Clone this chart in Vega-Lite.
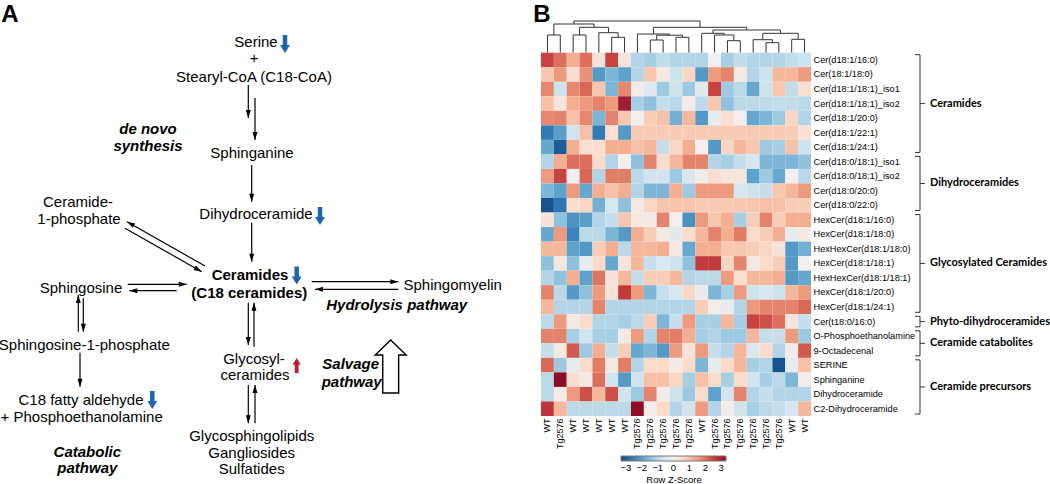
{
"$schema":"https://vega.github.io/schema/vega-lite/v6.json",
"width":1050,"height":484,"autosize":{"type":"none"},"padding":0,
"config":{"view":{"stroke":null},"font":"Liberation Sans","axis":{"domain":false,"ticks":false,"grid":false}},
"datasets":{
"txt":[{"t":"Serine","x":256,"y":42},{"t":"+","x":254,"y":58},{"t":"Stearyl-CoA (C18-CoA)","x":254,"y":77},{"t":"Sphinganine","x":252,"y":153},{"t":"Dihydroceramide","x":256,"y":213.5},{"t":"Ceramide-","x":78,"y":202},{"t":"1-phosphate","x":79,"y":218.5},{"t":"Sphingosine","x":81,"y":287.5},{"t":"Sphingomyelin","x":452.7,"y":285},{"t":"Sphingosine-1-phosphate","x":84.3,"y":344.5},{"t":"C18 fatty aldehyde","x":81,"y":400},{"t":"+ Phosphoethanolamine","x":81.7,"y":416.7},{"t":"Glycosyl-","x":254,"y":358.5},{"t":"ceramides","x":255,"y":375},{"t":"Glycosphingolipids","x":251.7,"y":436},{"t":"Gangliosides","x":251.7,"y":452.7},{"t":"Sulfatides","x":251.7,"y":469.3}],
"txtb":[{"t":"Ceramides","x":250,"y":275},{"t":"(C18 ceramides)","x":249.3,"y":292.7}],
"txtbi":[{"t":"de novo","x":148,"y":129},{"t":"synthesis","x":148,"y":146},{"t":"Hydrolysis pathway","x":396.7,"y":305},{"t":"Catabolic","x":87.3,"y":451.7},{"t":"pathway","x":87.3,"y":468.3},{"t":"Salvage","x":350.7,"y":364.3},{"t":"pathway","x":351.7,"y":381.7}],
"letters":[{"t":"A","x":10,"y":21.8},{"t":"B","x":542,"y":21.8}],
"arrows":[{"x":248.3,"y":85,"x2":248.3,"y2":118,"a":180},{"x":255,"y":98,"x2":255,"y2":140,"a":180},{"x":251.7,"y":165,"x2":251.7,"y2":201.7,"a":180},{"x":251.7,"y":222.7,"x2":251.7,"y2":261.7,"a":180},{"x":205,"y":266,"x2":127,"y2":221.7,"a":299.6},{"x":125,"y":228.3,"x2":201.7,"y2":271.7,"a":119.5},{"x":127.7,"y":284.3,"x2":186.7,"y2":284.3,"a":90},{"x":176.7,"y":290.7,"x2":129.3,"y2":290.7,"a":270},{"x":311.7,"y":281.7,"x2":398.3,"y2":281.7,"a":90},{"x":398.3,"y":289.3,"x2":315,"y2":289.3,"a":270},{"x":78.3,"y":331.7,"x2":78.3,"y2":295,"a":0},{"x":83.3,"y":298.3,"x2":83.3,"y2":331.7,"a":180},{"x":80,"y":352.7,"x2":80,"y2":386.7,"a":180},{"x":248.3,"y":302.7,"x2":248.3,"y2":345,"a":180},{"x":254,"y":346.7,"x2":254,"y2":302.7,"a":0},{"x":248.3,"y":385,"x2":248.3,"y2":423.3,"a":180},{"x":255,"y":423.3,"x2":255,"y2":385,"a":0}],
"down":[{"x":285,"y":44},{"x":320,"y":216},{"x":296.7,"y":275.5},{"x":152.3,"y":400}],
"up":[{"x":296.7,"y":365.5}],
"big":[{"x":390.7,"y":366.5}],
"dendro":[{"xl":1,"xr":2,"hl":0,"hr":0,"h":17.7},{"xl":3,"xr":4,"hl":0,"hr":0,"h":17.7},{"xl":6,"xr":7,"hl":0,"hr":0,"h":15.4},{"xl":5,"xr":6.5,"hl":0,"hr":15.4,"h":20},{"xl":3.5,"xr":5.75,"hl":17.7,"hr":20,"h":25.4},{"xl":1.5,"xr":4.625,"hl":17.7,"hr":25.4,"h":28.7},{"xl":9,"xr":10,"hl":0,"hr":0,"h":12.7},{"xl":11,"xr":12,"hl":0,"hr":0,"h":15.4},{"xl":9.5,"xr":11.5,"hl":12.7,"hr":15.4,"h":17.5},{"xl":8,"xr":10.5,"hl":0,"hr":17.5,"h":18.7},{"xl":15,"xr":16,"hl":0,"hr":0,"h":12},{"xl":14,"xr":15.5,"hl":0,"hr":12,"h":17.7},{"xl":13,"xr":14.75,"hl":0,"hr":17.7,"h":19.4},{"xl":18,"xr":19,"hl":0,"hr":0,"h":10},{"xl":17,"xr":18.5,"hl":0,"hr":10,"h":13},{"xl":20,"xr":21,"hl":0,"hr":0,"h":13.4},{"xl":17.75,"xr":20.5,"hl":13,"hr":13.4,"h":19.4},{"xl":13.875,"xr":19.125,"hl":19.4,"hr":19.4,"h":22.7},{"xl":9.25,"xr":16.5,"hl":18.7,"hr":22.7,"h":25.4},{"xl":3.0625,"xr":12.875,"hl":28.7,"hr":25.4,"h":31.7}],
"groups":[{"g":"Ceramides","top":0,"bot":7,"mid":3.5},{"g":"Dihydroceramides","top":7,"bot":11,"mid":9},{"g":"Glycosylated Ceramides","top":11,"bot":18,"mid":14.5},{"g":"Phyto-dihydroceramides","top":18,"bot":19,"mid":18.5},{"g":"Ceramide catabolites","top":19,"bot":21,"mid":20},{"g":"Ceramide precursors","top":21,"bot":25,"mid":23}],
"heat":[
{"m":"Cer(d18:1/16:0)","WT|1":2.5,"Tg2576|2":2.02,"WT|3":1.32,"WT|4":2.02,"WT|5":0.38,"WT|6":2.5,"WT|7":0.38,"Tg2576|8":-1.05,"Tg2576|9":-1.18,"Tg2576|10":-0.85,"Tg2576|11":-1.05,"Tg2576|12":-1.05,"WT|13":-1.05,"Tg2576|14":0,"Tg2576|15":-1.18,"Tg2576|16":-0.85,"Tg2576|17":-1.05,"Tg2576|18":-1.05,"Tg2576|19":-1.05,"WT|20":-0.85,"WT|21":-0.72},
{"m":"Cer(18:1/18:0)","WT|1":0.95,"Tg2576|2":1.55,"WT|3":0.55,"WT|4":1.65,"WT|5":-2.1,"WT|6":-1.65,"WT|7":-1.97,"Tg2576|8":-1.05,"Tg2576|9":0.95,"Tg2576|10":0.2,"Tg2576|11":-0.72,"Tg2576|12":0.72,"WT|13":-2.1,"Tg2576|14":1.55,"Tg2576|15":1.8,"Tg2576|16":0.2,"Tg2576|17":-1.05,"Tg2576|18":-0.72,"Tg2576|19":1.18,"WT|20":1.18,"WT|21":1.55},
{"m":"Cer(d18:1/18:1)_iso1","WT|1":1.75,"Tg2576|2":-0.72,"WT|3":1.75,"WT|4":2.1,"WT|5":0.95,"WT|6":-1.65,"WT|7":1.75,"Tg2576|8":0.1,"Tg2576|9":-0.38,"Tg2576|10":-1.32,"Tg2576|11":-0.72,"Tg2576|12":-1.32,"WT|13":-0.3,"Tg2576|14":2.5,"Tg2576|15":-1.32,"Tg2576|16":-0.95,"Tg2576|17":-1.88,"Tg2576|18":-0.72,"Tg2576|19":0.95,"WT|20":-0.85,"WT|21":0.55},
{"m":"Cer(d18:1/18:1)_iso2","WT|1":1.05,"Tg2576|2":0.38,"WT|3":1.32,"WT|4":1.55,"WT|5":1.8,"WT|6":1.55,"WT|7":3.05,"Tg2576|8":-1.18,"Tg2576|9":-1.45,"Tg2576|10":-0.8,"Tg2576|11":-0.95,"Tg2576|12":0.1,"WT|13":-0.9,"Tg2576|14":0.95,"Tg2576|15":-1.45,"Tg2576|16":-0.95,"Tg2576|17":-0.95,"Tg2576|18":-0.9,"Tg2576|19":-0.85,"WT|20":-0.85,"WT|21":-0.95},
{"m":"Cer(d18:1/20:0)","WT|1":1.75,"Tg2576|2":1.8,"WT|3":1.05,"WT|4":1.75,"WT|5":-1.65,"WT|6":1.8,"WT|7":0.95,"Tg2576|8":0,"Tg2576|9":0.85,"Tg2576|10":1.05,"Tg2576|11":-1.75,"Tg2576|12":1.18,"WT|13":-2.1,"Tg2576|14":-0.2,"Tg2576|15":0.55,"Tg2576|16":0,"Tg2576|17":-1.88,"Tg2576|18":-1.65,"Tg2576|19":-1.32,"WT|20":0.72,"WT|21":-1.05},
{"m":"Cer(d18:1/22:1)","WT|1":-2.6,"Tg2576|2":-2.02,"WT|3":-0.65,"WT|4":1.05,"WT|5":-2.6,"WT|6":0.55,"WT|7":-2.1,"Tg2576|8":0.9,"Tg2576|9":0.9,"Tg2576|10":0.9,"Tg2576|11":0.9,"Tg2576|12":0.9,"WT|13":0.9,"Tg2576|14":0.9,"Tg2576|15":0.9,"Tg2576|16":0.9,"Tg2576|17":0.9,"Tg2576|18":0.9,"Tg2576|19":0.9,"WT|20":0.85,"WT|21":0.45},
{"m":"Cer(d18:1/24:1)","WT|1":-1.88,"Tg2576|2":-3.05,"WT|3":1.32,"WT|4":0.55,"WT|5":0.55,"WT|6":1.32,"WT|7":1.32,"Tg2576|8":1.05,"Tg2576|9":1.18,"Tg2576|10":-0.8,"Tg2576|11":0.72,"Tg2576|12":1.32,"WT|13":0,"Tg2576|14":-2.1,"Tg2576|15":0.72,"Tg2576|16":1.18,"Tg2576|17":0.95,"Tg2576|18":-1.32,"Tg2576|19":-1.18,"WT|20":1.05,"WT|21":-0.72},
{"m":"Cer(d18:0/18:1)_iso1","WT|1":-1.05,"Tg2576|2":1.32,"WT|3":2.02,"WT|4":2.02,"WT|5":0.65,"WT|6":-1.05,"WT|7":0,"Tg2576|8":-1.45,"Tg2576|9":1.8,"Tg2576|10":0.65,"Tg2576|11":1.18,"Tg2576|12":1.8,"WT|13":1.8,"Tg2576|14":-1.05,"Tg2576|15":-1.18,"Tg2576|16":-0.8,"Tg2576|17":-0.55,"Tg2576|18":-1.65,"Tg2576|19":-1.65,"WT|20":-1.65,"WT|21":-1.45},
{"m":"Cer(d18:0/18:1)_iso2","WT|1":1.55,"Tg2576|2":2.5,"WT|3":0,"WT|4":2.1,"WT|5":-1.05,"WT|6":1.88,"WT|7":1.88,"Tg2576|8":-0.95,"Tg2576|9":-0.65,"Tg2576|10":-0.65,"Tg2576|11":-1.32,"Tg2576|12":-0.55,"WT|13":0.1,"Tg2576|14":0.55,"Tg2576|15":0.3,"Tg2576|16":0.3,"Tg2576|17":-1.97,"Tg2576|18":-1.32,"Tg2576|19":-1.88,"WT|20":0,"WT|21":-0.95},
{"m":"Cer(d18:0/20:0)","WT|1":-1.65,"Tg2576|2":-1.97,"WT|3":1.55,"WT|4":-1.88,"WT|5":1.32,"WT|6":1.05,"WT|7":1.32,"Tg2576|8":-1.05,"Tg2576|9":-1.65,"Tg2576|10":-1.65,"Tg2576|11":1.32,"Tg2576|12":-1.32,"WT|13":1.55,"Tg2576|14":1.55,"Tg2576|15":1.55,"Tg2576|16":-0.55,"Tg2576|17":-0.72,"Tg2576|18":-0.8,"Tg2576|19":0.95,"WT|20":1.18,"WT|21":1.55},
{"m":"Cer(d18:0/22:0)","WT|1":-3.2,"Tg2576|2":-2.65,"WT|3":0.55,"WT|4":0.72,"WT|5":-1.75,"WT|6":-0.55,"WT|7":-1.45,"Tg2576|8":0.2,"Tg2576|9":0.72,"Tg2576|10":1,"Tg2576|11":1,"Tg2576|12":1,"WT|13":0.9,"Tg2576|14":0.9,"Tg2576|15":0.9,"Tg2576|16":0.95,"Tg2576|17":0.95,"Tg2576|18":1.05,"Tg2576|19":1.05,"WT|20":0.85,"WT|21":0.85},
{"m":"HexCer(d18:1/16:0)","WT|1":0.38,"Tg2576|2":-1.45,"WT|3":-2.2,"WT|4":-2.02,"WT|5":-1.05,"WT|6":-0.8,"WT|7":0.95,"Tg2576|8":0.2,"Tg2576|9":0.2,"Tg2576|10":1.8,"Tg2576|11":0,"Tg2576|12":-2.25,"WT|13":1.55,"Tg2576|14":0.95,"Tg2576|15":1.32,"Tg2576|16":-1.18,"Tg2576|17":0.85,"Tg2576|18":1.8,"Tg2576|19":0.85,"WT|20":1.32,"WT|21":1.32},
{"m":"HexCer(d18:1/18:0)","WT|1":-1.88,"Tg2576|2":1.55,"WT|3":-2.45,"WT|4":-0.95,"WT|5":-0.95,"WT|6":-1.65,"WT|7":-2.1,"Tg2576|8":1.32,"Tg2576|9":0.85,"Tg2576|10":0.2,"Tg2576|11":-0.3,"Tg2576|12":0.65,"WT|13":1.18,"Tg2576|14":1.8,"Tg2576|15":1.32,"Tg2576|16":1.88,"Tg2576|17":0.65,"Tg2576|18":0.85,"Tg2576|19":1.32,"WT|20":-0.2,"WT|21":0.2},
{"m":"HexHexCer(d18:1/18:0)","WT|1":1.18,"Tg2576|2":1.18,"WT|3":-1.97,"WT|4":-2.1,"WT|5":0.85,"WT|6":1.32,"WT|7":-0.95,"Tg2576|8":1.18,"Tg2576|9":1.18,"Tg2576|10":1.32,"Tg2576|11":0.2,"Tg2576|12":-1.88,"WT|13":1.32,"Tg2576|14":1.32,"Tg2576|15":0.95,"Tg2576|16":0.95,"Tg2576|17":0.85,"Tg2576|18":0.72,"Tg2576|19":0.38,"WT|20":-2.1,"WT|21":-1.75},
{"m":"HexCer(d18:1/18:1)","WT|1":-1.45,"Tg2576|2":0.3,"WT|3":-1.45,"WT|4":-0.2,"WT|5":0.65,"WT|6":-1.88,"WT|7":0.3,"Tg2576|8":1.18,"Tg2576|9":-0.8,"Tg2576|10":-0.45,"Tg2576|11":-0.72,"Tg2576|12":-1.45,"WT|13":2.6,"Tg2576|14":2.6,"Tg2576|15":0.72,"Tg2576|16":1.8,"Tg2576|17":0.2,"Tg2576|18":0.65,"Tg2576|19":0.85,"WT|20":-2.1,"WT|21":0},
{"m":"HexHexCer(d18:1/18:1)","WT|1":-1.05,"Tg2576|2":-1.45,"WT|3":1.32,"WT|4":-1.97,"WT|5":1.97,"WT|6":0.38,"WT|7":1.18,"Tg2576|8":-0.8,"Tg2576|9":0.85,"Tg2576|10":0.85,"Tg2576|11":1.18,"Tg2576|12":-1.05,"WT|13":-0.95,"Tg2576|14":-0.95,"Tg2576|15":1.55,"Tg2576|16":0.55,"Tg2576|17":1.18,"Tg2576|18":1.18,"Tg2576|19":1.32,"WT|20":-2.1,"WT|21":-1.88},
{"m":"HexCer(d18:1/20:0)","WT|1":1.8,"Tg2576|2":-0.95,"WT|3":-2.1,"WT|4":-1.45,"WT|5":1.55,"WT|6":0.38,"WT|7":2.6,"Tg2576|8":1.55,"Tg2576|9":-1.65,"Tg2576|10":-0.8,"Tg2576|11":-0.55,"Tg2576|12":0.72,"WT|13":-0.2,"Tg2576|14":-1.65,"Tg2576|15":-1.18,"Tg2576|16":1.55,"Tg2576|17":-0.72,"Tg2576|18":-0.55,"Tg2576|19":-0.72,"WT|20":1.18,"WT|21":1.55},
{"m":"HexCer(d18:1/24:1)","WT|1":1.18,"Tg2576|2":-1.05,"WT|3":-1.05,"WT|4":-1.05,"WT|5":1.8,"WT|6":-1.05,"WT|7":-1.05,"Tg2576|8":-1.05,"Tg2576|9":-1.05,"Tg2576|10":-1.05,"Tg2576|11":-1.05,"Tg2576|12":-1.05,"WT|13":0.85,"Tg2576|14":0.1,"Tg2576|15":-0.2,"Tg2576|16":-1.05,"Tg2576|17":1.55,"Tg2576|18":1.8,"Tg2576|19":1.8,"WT|20":1.8,"WT|21":2.1},
{"m":"Cer(t18:0/16:0)","WT|1":-0.95,"Tg2576|2":1.55,"WT|3":0.2,"WT|4":0.65,"WT|5":-1.05,"WT|6":-1.05,"WT|7":-1.18,"Tg2576|8":-0.95,"Tg2576|9":0.85,"Tg2576|10":-1.65,"Tg2576|11":-0.8,"Tg2576|12":1.55,"WT|13":-1.18,"Tg2576|14":-1.18,"Tg2576|15":1.18,"Tg2576|16":-1.18,"Tg2576|17":2.5,"Tg2576|18":2.35,"Tg2576|19":2.02,"WT|20":0.3,"WT|21":-0.8},
{"m":"O-Phosphoethanolamine","WT|1":1.8,"Tg2576|2":1.8,"WT|3":-1.18,"WT|4":-0.65,"WT|5":-1.18,"WT|6":-1.18,"WT|7":0.2,"Tg2576|8":1.55,"Tg2576|9":-1.05,"Tg2576|10":1.8,"Tg2576|11":1.88,"Tg2576|12":1.32,"WT|13":-1.18,"Tg2576|14":-1.05,"Tg2576|15":-1.32,"Tg2576|16":-1.32,"Tg2576|17":1.18,"Tg2576|18":-0.8,"Tg2576|19":-0.8,"WT|20":1.55,"WT|21":-1.32},
{"m":"9-Octadecenal","WT|1":-0.8,"Tg2576|2":0.2,"WT|3":2.25,"WT|4":-1.32,"WT|5":1.32,"WT|6":-0.8,"WT|7":0.85,"Tg2576|8":-1.88,"Tg2576|9":-1.65,"Tg2576|10":-2.1,"Tg2576|11":1.55,"Tg2576|12":0.38,"WT|13":1.55,"Tg2576|14":-0.8,"Tg2576|15":-1.05,"Tg2576|16":1.18,"Tg2576|17":-0.45,"Tg2576|18":0.65,"Tg2576|19":-1.05,"WT|20":0.1,"WT|21":2.25},
{"m":"SERINE","WT|1":2.1,"Tg2576|2":-1.32,"WT|3":-0.2,"WT|4":0.65,"WT|5":1.88,"WT|6":0.2,"WT|7":1.88,"Tg2576|8":-1.05,"Tg2576|9":0.65,"Tg2576|10":0.65,"Tg2576|11":0.2,"Tg2576|12":0.65,"WT|13":-1.65,"Tg2576|14":-0.2,"Tg2576|15":0.65,"Tg2576|16":1.18,"Tg2576|17":-1.18,"Tg2576|18":-1.05,"Tg2576|19":-3.2,"WT|20":-0.2,"WT|21":1.05},
{"m":"Sphinganine","WT|1":-0.95,"Tg2576|2":3.3,"WT|3":0.55,"WT|4":0.2,"WT|5":2.02,"WT|6":-0.65,"WT|7":-2.1,"Tg2576|8":-0.65,"Tg2576|9":1.05,"Tg2576|10":1.05,"Tg2576|11":0.72,"Tg2576|12":-1.18,"WT|13":1.05,"Tg2576|14":0.65,"Tg2576|15":-1.18,"Tg2576|16":0.65,"Tg2576|17":-0.65,"Tg2576|18":-1.18,"Tg2576|19":-0.95,"WT|20":-1.65,"WT|21":0.1},
{"m":"Dihydroceramide","WT|1":-0.95,"Tg2576|2":0.1,"WT|3":1.55,"WT|4":2.35,"WT|5":1.18,"WT|6":2.35,"WT|7":-0.65,"Tg2576|8":-1.32,"Tg2576|9":1.8,"Tg2576|10":0.1,"Tg2576|11":-0.72,"Tg2576|12":-1.32,"WT|13":0.65,"Tg2576|14":-1.97,"Tg2576|15":-0.65,"Tg2576|16":1.8,"Tg2576|17":-1.05,"Tg2576|18":-0.8,"Tg2576|19":-1.05,"WT|20":-1.05,"WT|21":-1.05},
{"m":"C2-Dihydroceramide","WT|1":2.65,"Tg2576|2":1.18,"WT|3":-0.95,"WT|4":-0.95,"WT|5":-0.95,"WT|6":-0.95,"WT|7":-0.95,"Tg2576|8":3.3,"Tg2576|9":0.1,"Tg2576|10":0.65,"Tg2576|11":-1.05,"Tg2576|12":-0.65,"WT|13":1.55,"Tg2576|14":-1.05,"Tg2576|15":0.1,"Tg2576|16":-0.65,"Tg2576|17":-1.18,"Tg2576|18":-0.95,"Tg2576|19":-0.8,"WT|20":-0.55,"WT|21":1.18}
]},
"layer":[
{"encoding":{"x":{"field":"x","type":"quantitative","scale":{"domain":[0,1050],"range":[0,1050],"nice":false,"zero":false},"axis":null},"y":{"field":"y","type":"quantitative","scale":{"domain":[0,484],"range":[0,484],"nice":false,"zero":false},"axis":null}},
"layer":[
{"data":{"name":"arrows"},"mark":{"type":"rule","color":"#000","strokeWidth":1.2},"encoding":{"x2":{"field":"x2"},"y2":{"field":"y2"}}},
{"data":{"name":"arrows"},"mark":{"type":"point","shape":"M0,0L0.5,1.6L-0.5,1.6Z","filled":true,"color":"#000","opacity":1,"size":100},"encoding":{"x":{"field":"x2","type":"quantitative"},"y":{"field":"y2","type":"quantitative"},"angle":{"field":"a","type":"quantitative","scale":{"domain":[0,360],"range":[0,360]},"legend":null}}},
{"data":{"name":"down"},"mark":{"type":"point","shape":"M-0.25,-1L0.25,-1L0.25,0.1L0.55,0.1L0,1L-0.55,0.1L-0.25,0.1Z","filled":true,"color":"#1f64b1","opacity":1,"size":324}},
{"data":{"name":"up"},"mark":{"type":"point","shape":"M-0.25,1L0.25,1L0.25,-0.1L0.55,-0.1L0,-1L-0.55,-0.1L-0.25,-0.1Z","filled":true,"color":"#c01a2c","opacity":1,"size":225}},
{"data":{"name":"big"},"mark":{"type":"point","shape":"M0,-1L0.585,-0.434L0.3,-0.434L0.3,1L-0.3,1L-0.3,-0.434L-0.585,-0.434Z","filled":true,"fill":"#fff","stroke":"#000","strokeWidth":1.4,"opacity":1,"size":2809}},
{"data":{"name":"txt"},"mark":{"type":"text","fontSize":15,"align":"center","baseline":"middle","color":"#000"},"encoding":{"text":{"field":"t"}}},
{"data":{"name":"txtb"},"mark":{"type":"text","fontSize":15,"fontWeight":"bold","align":"center","baseline":"middle","color":"#000"},"encoding":{"text":{"field":"t"}}},
{"data":{"name":"txtbi"},"mark":{"type":"text","fontSize":15,"fontWeight":"bold","fontStyle":"italic","align":"center","baseline":"middle","color":"#000"},"encoding":{"text":{"field":"t"}}},
{"data":{"name":"letters"},"mark":{"type":"text","fontSize":24,"fontWeight":"bold","align":"center","baseline":"alphabetic","color":"#000"},"encoding":{"text":{"field":"t"}}}
]},
{"data":{"name":"dendro"},
"layer":[
{"mark":{"type":"rule","color":"#333","strokeWidth":1},"encoding":{"x":{"field":"xl","type":"quantitative","scale":{"domain":[0.5,21.5],"range":[541,811],"nice":false,"zero":false},"axis":null},"y":{"field":"hl","type":"quantitative","scale":{"domain":[0,32],"range":[52.7,20.7],"nice":false,"zero":false},"axis":null},"y2":{"field":"h"}}},
{"mark":{"type":"rule","color":"#333","strokeWidth":1},"encoding":{"x":{"field":"xr","type":"quantitative"},"y":{"field":"hr","type":"quantitative"},"y2":{"field":"h"}}},
{"mark":{"type":"rule","color":"#333","strokeWidth":1},"encoding":{"x":{"field":"xl","type":"quantitative"},"x2":{"field":"xr"},"y":{"field":"h","type":"quantitative"}}}
]},
{"data":{"name":"heat"},
"transform":[{"fold":["WT|1","Tg2576|2","WT|3","WT|4","WT|5","WT|6","WT|7","Tg2576|8","Tg2576|9","Tg2576|10","Tg2576|11","Tg2576|12","WT|13","Tg2576|14","Tg2576|15","Tg2576|16","Tg2576|17","Tg2576|18","Tg2576|19","WT|20","WT|21"],"as":["s","z"]}],
"mark":{"type":"rect"},
"encoding":{
"x":{"field":"s","type":"ordinal","sort":["WT|1","Tg2576|2","WT|3","WT|4","WT|5","WT|6","WT|7","Tg2576|8","Tg2576|9","Tg2576|10","Tg2576|11","Tg2576|12","WT|13","Tg2576|14","Tg2576|15","Tg2576|16","Tg2576|17","Tg2576|18","Tg2576|19","WT|20","WT|21"],"scale":{"range":[541,811],"paddingInner":0,"paddingOuter":0},"axis":{"orient":"bottom","offset":-68,"labelAngle":-90,"labelExpr":"split(datum.value,'|')[0]","labelFontSize":9,"labelPadding":2,"labelOverlap":false,"labelColor":"#000","title":null}},
"y":{"field":"m","type":"nominal","sort":["Cer(d18:1/16:0)","Cer(18:1/18:0)","Cer(d18:1/18:1)_iso1","Cer(d18:1/18:1)_iso2","Cer(d18:1/20:0)","Cer(d18:1/22:1)","Cer(d18:1/24:1)","Cer(d18:0/18:1)_iso1","Cer(d18:0/18:1)_iso2","Cer(d18:0/20:0)","Cer(d18:0/22:0)","HexCer(d18:1/16:0)","HexCer(d18:1/18:0)","HexHexCer(d18:1/18:0)","HexCer(d18:1/18:1)","HexHexCer(d18:1/18:1)","HexCer(d18:1/20:0)","HexCer(d18:1/24:1)","Cer(t18:0/16:0)","O-Phosphoethanolamine","9-Octadecenal","SERINE","Sphinganine","Dihydroceramide","C2-Dihydroceramide"],"scale":{"range":[52.7,416],"paddingInner":0,"paddingOuter":0},"axis":{"orient":"right","offset":-239,"labelFontSize":9.2,"labelPadding":2,"labelOverlap":false,"labelColor":"#000","title":null}},
"color":{"field":"z","type":"quantitative","scale":{"scheme":"redblue","reverse":true,"domain":[-3.3,3.3]},"legend":{"orient":"none","legendX":621,"legendY":456,"direction":"horizontal","gradientLength":105,"gradientThickness":5,"title":"Row Z-Score","titleOrient":"bottom","titleAnchor":"middle","titleFontSize":9.5,"titleFontWeight":"normal","titleColor":"#000","titlePadding":2,"values":[-3,-2,-1,0,1,2,3],"labelFontSize":9.5,"labelColor":"#000","labelOverlap":false,"gradientStrokeColor":"#777","gradientStrokeWidth":1}}
}},
{"data":{"name":"groups"},
"layer":[
{"mark":{"type":"rule","color":"#333","strokeWidth":1,"yOffset":2,"y2Offset":-2},"encoding":{"x":{"datum":920,"type":"quantitative","scale":{"domain":[0,1050],"range":[0,1050],"nice":false,"zero":false},"axis":null},"y":{"field":"top","type":"quantitative","scale":{"domain":[0,25],"range":[52.7,416],"nice":false,"zero":false},"axis":null},"y2":{"field":"bot"}}},
{"mark":{"type":"rule","color":"#333","strokeWidth":1,"yOffset":2},"encoding":{"x":{"datum":915,"type":"quantitative"},"x2":{"datum":920},"y":{"field":"top","type":"quantitative"}}},
{"mark":{"type":"rule","color":"#333","strokeWidth":1,"yOffset":-2},"encoding":{"x":{"datum":915,"type":"quantitative"},"x2":{"datum":920},"y":{"field":"bot","type":"quantitative"}}},
{"mark":{"type":"rule","color":"#333","strokeWidth":1},"encoding":{"x":{"datum":920,"type":"quantitative"},"x2":{"datum":925},"y":{"field":"mid","type":"quantitative"}}},
{"mark":{"type":"text","font":"Lato","fontWeight":"bold","fontSize":11,"align":"left","baseline":"middle","color":"#000"},"encoding":{"x":{"datum":930,"type":"quantitative"},"y":{"field":"mid","type":"quantitative"},"text":{"field":"g"}}}
]}
],
"resolve":{"scale":{"x":"independent","y":"independent","color":"independent","angle":"independent"}}
}
